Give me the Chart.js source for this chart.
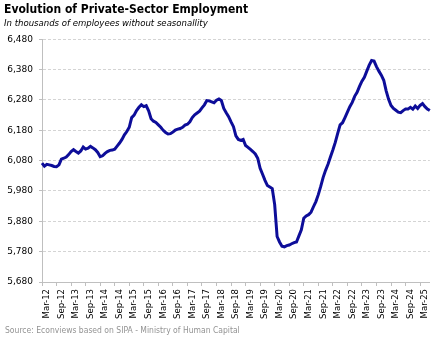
<!DOCTYPE html>
<html><head><meta charset="utf-8">
<script src="https://cdn.jsdelivr.net/npm/chart.js@4/dist/chart.umd.min.js"></script>
<style>html,body{margin:0;padding:0;background:#fff;}#wrap{width:443px;height:340px;}</style>
</head><body><div id="wrap"><canvas id="c" width="443" height="340"></canvas></div>
<script>
const titleText = 'Evolution of Private-Sector Employment';
const subtitleText = 'In thousands of employees without seasonallity';
const sourceText = 'Source: Econviews based on SIPA - Ministry of Human Capital';
const monthNames = ['Jan','Feb','Mar','Apr','May','Jun','Jul','Aug','Sep','Oct','Nov','Dec'];
const startYear = 2012;
const startMonthIndex = 2; // March
const yTickValues = [5680, 5780, 5880, 5980, 6080, 6180, 6280, 6380, 6480];
// Private-sector employment, thousands, Mar-12 .. Jul-25
const employment = [
 6072,6062,6068,6066,6064,6061,6060,6066,6085,6088,6092,6100,
 6110,6116,6110,6105,6112,6125,6118,6121,6127,6122,6116,6107,
 6093,6096,6104,6110,6114,6115,6118,6128,6138,6150,6165,6176,
 6190,6222,6230,6245,6256,6264,6258,6261,6244,6218,6210,6206,
 6198,6190,6180,6173,6168,6169,6174,6181,6184,6186,6190,6197,
 6200,6208,6222,6231,6237,6243,6254,6264,6278,6277,6274,6271,
 6279,6283,6278,6252,6238,6225,6208,6192,6162,6150,6147,6150,
 6130,6124,6117,6110,6102,6088,6055,6035,6015,5998,5993,5988,
 5935,5830,5812,5798,5796,5800,5802,5806,5810,5812,5832,5852,
 5890,5898,5902,5910,5928,5945,5968,5995,6025,6048,6068,6092,
 6115,6140,6170,6198,6205,6222,6240,6258,6272,6292,6305,6325,
 6342,6355,6375,6395,6410,6408,6390,6375,6362,6345,6310,6282,
 6262,6252,6246,6240,6238,6245,6250,6250,6256,6250,6260,6252,
 6262,6268,6258,6250,6245
];
const categories = employment.map((_, i) => {
  const m = (startMonthIndex + i) % 12;
  const y = startYear + Math.floor((startMonthIndex + i) / 12);
  return monthNames[m] + '-' + String(y).slice(2);
});

const sourcePlugin = {
  id: 'sourceNote',
  afterDraw(chart) {
    const c = chart.ctx;
    c.save();
    c.font = '8.5px "DejaVu Sans Condensed"';
    c.fillStyle = '#939393';
    c.textBaseline = 'middle';
    c.textAlign = 'left';
    c.fillText(sourceText, 5, 331);
    c.restore();
  }
};

new Chart(document.getElementById('c'), {
  type: 'line',
  data: {
    labels: categories,
    datasets: [{
      data: employment,
      borderColor: '#0d0d99',
      borderWidth: 3,
      pointRadius: 0,
      tension: 0,
      fill: false
    }]
  },
  options: {
    responsive: false,
    animation: false,
    layout: { padding: { left: 4, right: 13, top: 0, bottom: 21 } },
    plugins: {
      legend: { display: false },
      tooltip: { enabled: false },
      title: {
        display: true, text: titleText, align: 'start', color: '#000',
        font: { family: '"DejaVu Sans Condensed"', size: 12, weight: 'bold' },
        padding: { top: 3, bottom: 0 }
      },
      subtitle: {
        display: true, text: subtitleText, align: 'start', color: '#000',
        font: { family: '"DejaVu Sans Condensed"', size: 9.5, style: 'italic' },
        padding: { top: 0, bottom: 10.5 }
      }
    },
    scales: {
      x: {
        grid: {
          drawOnChartArea: false, drawTicks: true, tickLength: 4,
          tickColor: c => (c.index % 6 === 0 ? '#bfbfbf' : 'rgba(0,0,0,0)'),
          color: 'rgba(0,0,0,0)'
        },
        border: { color: '#bfbfbf', width: 1 },
        ticks: {
          autoSkip: false, maxRotation: 90, minRotation: 90, labelOffset: 5, padding: 3,
          callback: (v, i) => (i % 6 === 0 ? categories[i] : ''),
          font: { family: '"DejaVu Sans"', size: 8.5 }, color: '#000'
        },
        afterFit: s => { s.height = 37; }
      },
      y: {
        min: yTickValues[0], max: yTickValues[yTickValues.length - 1],
        afterBuildTicks: s => { s.ticks = yTickValues.map(v => ({ value: v })); },
        ticks: {
          padding: 6,
          callback: v => Number(v).toLocaleString('en-US'),
          font: { family: '"DejaVu Sans"', size: 9 }, color: '#000'
        },
        grid: { color: '#d4d4d4', tickColor: '#bfbfbf', tickLength: 3, lineWidth: 1 },
        border: { color: '#bfbfbf', width: 1, dash: [3, 2] },
        afterFit: s => { s.width = 38; }
      }
    }
  },
  plugins: [sourcePlugin]
});
</script>
</body></html>
